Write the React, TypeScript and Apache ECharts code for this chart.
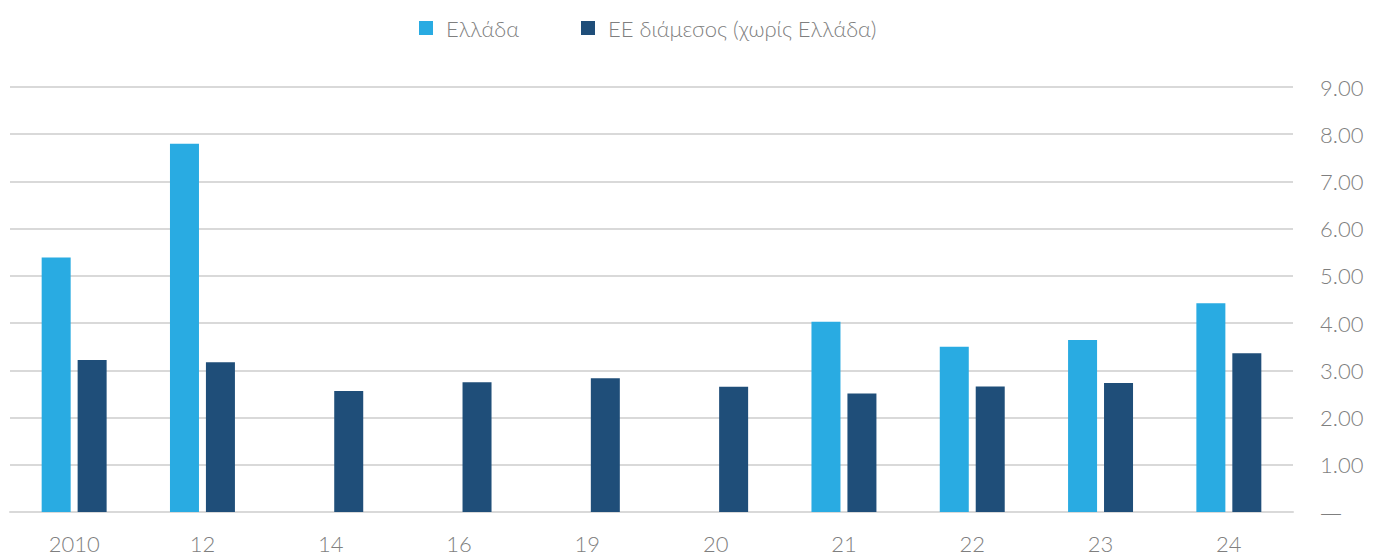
import React, { useEffect, useRef } from "react";
import * as echarts from "echarts";

const categories = ["2010", "12", "14", "16", "19", "20", "21", "22", "23", "24"];
const greece: (number | null)[] = [5.39, 7.8, null, null, null, null, 4.03, 3.5, 3.64, 4.42];
const euMedian: number[] = [3.22, 3.17, 2.56, 2.75, 2.83, 2.65, 2.51, 2.66, 2.73, 3.36];
const seriesNames = ["Ελλάδα", "ΕΕ διάμεσος (χωρίς Ελλάδα)"];

const FONT = "Lato";
const TEXT_COLOR = "#7f7f7f";

export default function App() {
  const ref = useRef<HTMLDivElement>(null);
  useEffect(() => {
    if (!ref.current) return;
    const chart = echarts.init(ref.current, undefined, { renderer: "svg" });
    chart.setOption({
      animation: false,
      textStyle: { fontFamily: FONT, fontWeight: 300, color: TEXT_COLOR },
      legend: {
        left: 414,
        top: 12,
        itemWidth: 14,
        itemHeight: 14,
        itemGap: 62,
        icon: "rect",
        textStyle: { fontFamily: FONT, fontWeight: 300, fontSize: 22, color: TEXT_COLOR, padding: [0, 0, 0, 8] },
        data: seriesNames,
      },
      grid: { left: 10, right: 80, top: 87, bottom: 44, outerBoundsMode: "none" },
      xAxis: {
        type: "category",
        data: categories,
        axisLine: { show: true, lineStyle: { color: "#d9d9d9", width: 2 } },
        axisTick: { show: false },
        axisLabel: { fontFamily: FONT, fontWeight: 300, fontSize: 22, color: TEXT_COLOR, margin: 20 },
      },
      yAxis: {
        type: "value",
        position: "right",
        min: 0,
        max: 9,
        interval: 1,
        axisLine: { show: false },
        axisTick: { show: false },
        splitLine: { lineStyle: { color: "#d9d9d9", width: 2 } },
        axisLabel: {
          fontFamily: FONT,
          fontWeight: 300,
          fontSize: 22,
          color: TEXT_COLOR,
          margin: 27,
          formatter: (v: number) => (v === 0 ? "{d|—}" : v.toFixed(2)),
          rich: {
            d: { fontFamily: "DejaVu Sans", fontSize: 22, color: TEXT_COLOR, fontWeight: 300 },
          },
        },
      },
      series: [
        {
          name: seriesNames[0],
          type: "bar",
          data: greece,
          barWidth: 29,
          barGap: "24%",
          itemStyle: { color: "#29ABE2" },
        },
        {
          name: seriesNames[1],
          type: "bar",
          data: euMedian,
          barWidth: 29,
          barGap: "24%",
          itemStyle: { color: "#1F4E79" },
        },
      ],
    });
    return () => chart.dispose();
  }, []);
  return (
    <div
      ref={ref}
      style={{ position: "fixed", left: 0, top: 0, width: 1373, height: 556, background: "#fff" }}
    />
  );
}
